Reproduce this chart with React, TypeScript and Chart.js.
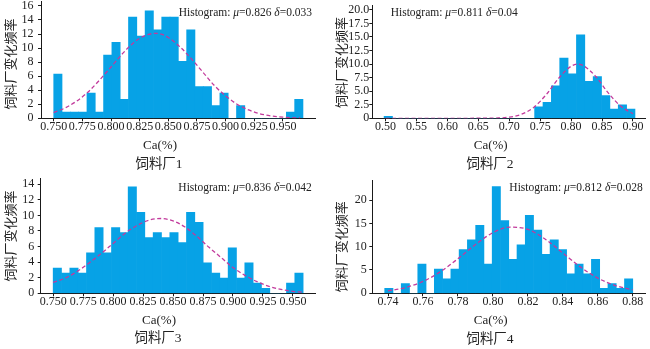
import React, { useEffect, useRef } from 'react';
import { Chart, registerables } from 'chart.js';

Chart.register(...registerables);

// ---------------- shared text ----------------
const Y_TITLE = '饲料厂变化频率';
const X_TITLE = 'Ca(%)';
const HIST_LABEL = 'Histogram: ';

// ---------------- 饲料厂1 ----------------
const P1_CAPTION = '饲料厂1';
const P1_MU = '0.826';
const P1_SD = '0.033';
const P1_BINS = [0.753625, 0.760875, 0.768125, 0.775375, 0.782625, 0.789875, 0.797125, 0.804375, 0.811625, 0.818875,
  0.826125, 0.833375, 0.840625, 0.847875, 0.855125, 0.862375, 0.869625, 0.876875, 0.884125, 0.891375,
  0.898625, 0.905875, 0.913125, 0.920375, 0.927625, 0.934875, 0.942125, 0.949375, 0.956625, 0.963875];
const P1_FREQ = [6.3, 0.9, 0.9, 0.9, 3.6, 0.9, 9.0, 10.8, 2.7, 14.4,
  11.7, 15.3, 12.6, 14.4, 14.4, 8.1, 12.6, 4.5, 4.5, 1.8,
  3.6, 0, 1.8, 0, 0, 0, 0, 0, 0.9, 2.7];
const P1_FIT_X = [0.75, 0.76, 0.77, 0.78, 0.79, 0.8, 0.81, 0.82, 0.83, 0.84, 0.85, 0.86, 0.87, 0.88, 0.89, 0.9, 0.91, 0.92, 0.93, 0.94, 0.95, 0.96, 0.965];
const P1_FIT_Y = [0.82, 1.48, 2.45, 3.75, 5.45, 7.3, 9.2, 10.8, 11.8, 12.1, 11.5, 10.2, 8.5, 6.6, 4.7, 3.2, 2.0, 1.2, 0.64, 0.33, 0.16, 0.07, 0.05];
const P1_XTICKS = [0.75, 0.775, 0.8, 0.825, 0.85, 0.875, 0.9, 0.925, 0.95];
const P1_YTICKS = [0, 2, 4, 6, 8, 10, 12, 14, 16];

// ---------------- 饲料厂2 ----------------
const P2_CAPTION = '饲料厂2';
const P2_MU = '0.811';
const P2_SD = '0.04';
const P2_BINS = [0.50446, 0.51798, 0.5315, 0.54502, 0.55854, 0.57206, 0.58558, 0.5991, 0.61262, 0.62614,
  0.63966, 0.65318, 0.6667, 0.68022, 0.69374, 0.70726, 0.72078, 0.7343, 0.74782, 0.76134,
  0.77486, 0.78838, 0.8019, 0.81542, 0.82894, 0.84246, 0.85598, 0.8695, 0.88302, 0.89654];
const P2_FREQ = [0.37, 0, 0, 0, 0, 0, 0, 0, 0, 0,
  0, 0, 0, 0, 0, 0, 0, 0, 2.1, 2.95,
  6.0, 11.1, 8.2, 15.4, 6.8, 7.7, 4.2, 1.7, 2.5, 1.7];
const P2_FIT_X = [0.5, 0.55, 0.6, 0.65, 0.68, 0.7, 0.72, 0.74, 0.76, 0.78, 0.8, 0.811, 0.82, 0.84, 0.86, 0.88, 0.9];
const P2_FIT_Y = [0, 0, 0, 0.01, 0.05, 0.21, 0.75, 2.06, 4.4, 7.4, 9.6, 10.0, 9.7, 7.7, 4.7, 2.25, 0.84];
const P2_XTICKS = [0.5, 0.55, 0.6, 0.65, 0.7, 0.75, 0.8, 0.85, 0.9];
const P2_YTICKS = [0, 2.5, 5, 7.5, 10, 12.5, 15, 17.5, 20];

// ---------------- 饲料厂3 ----------------
const P3_CAPTION = '饲料厂3';
const P3_MU = '0.836';
const P3_SD = '0.042';
const P3_BINS = [0.753475, 0.760425, 0.767375, 0.774325, 0.781275, 0.788225, 0.795175, 0.802125, 0.809075, 0.816025,
  0.822975, 0.829925, 0.836875, 0.843825, 0.850775, 0.857725, 0.864675, 0.871625, 0.878575, 0.885525,
  0.892475, 0.899425, 0.906375, 0.913325, 0.920275, 0.927225, 0.934175, 0.941125, 0.948075, 0.955025];
const P3_FREQ = [3.25, 2.6, 3.25, 2.6, 5.2, 8.45, 5.2, 8.45, 7.8, 13.65,
  10.4, 7.15, 7.8, 7.15, 7.8, 6.5, 10.4, 9.1, 3.9, 2.6,
  1.95, 5.85, 1.95, 3.9, 1.3, 0.65, 0, 0, 1.3, 2.6];
const P3_FIT_X = [0.75, 0.76, 0.77, 0.78, 0.79, 0.8, 0.81, 0.82, 0.83, 0.84, 0.85, 0.86, 0.87, 0.88, 0.89, 0.9, 0.91, 0.92, 0.93, 0.94, 0.95, 0.958];
const P3_FIT_Y = [1.4, 1.95, 2.8, 3.9, 5.1, 6.4, 7.7, 8.7, 9.4, 9.6, 9.3, 8.5, 7.3, 5.9, 4.6, 3.3, 2.3, 1.5, 0.9, 0.5, 0.25, 0.14];
const P3_XTICKS = [0.75, 0.775, 0.8, 0.825, 0.85, 0.875, 0.9, 0.925, 0.95];
const P3_YTICKS = [0, 2, 4, 6, 8, 10, 12, 14];

// ---------------- 饲料厂4 ----------------
const P4_CAPTION = '饲料厂4';
const P4_MU = '0.812';
const P4_SD = '0.028';
const P4_BINS = [0.740465, 0.745195, 0.749925, 0.754655, 0.759385, 0.764115, 0.768845, 0.773575, 0.778305, 0.783035,
  0.787765, 0.792495, 0.797225, 0.801955, 0.806685, 0.811415, 0.816145, 0.820875, 0.825605, 0.830335,
  0.835065, 0.839795, 0.844525, 0.849255, 0.853985, 0.858715, 0.863445, 0.868175, 0.872905, 0.877635];
const P4_FREQ = [1.04, 0, 2.08, 0, 6.25, 0, 5.2, 3.12, 5.2, 9.4,
  11.45, 14.6, 6.25, 22.9, 15.6, 7.3, 10.4, 16.7, 13.55, 8.35,
  11.45, 9.4, 4.15, 6.25, 4.15, 7.3, 1.04, 2.08, 1.04, 3.12];
const P4_FIT_X = [0.74, 0.75, 0.76, 0.77, 0.78, 0.79, 0.8, 0.81, 0.82, 0.83, 0.84, 0.85, 0.86, 0.87, 0.88];
const P4_FIT_Y = [0.52, 1.23, 2.54, 4.63, 7.42, 10.45, 13.0, 14.2, 13.7, 11.6, 8.65, 5.67, 3.27, 1.67, 0.74];
const P4_XTICKS = [0.74, 0.76, 0.78, 0.8, 0.82, 0.84, 0.86, 0.88];
const P4_YTICKS = [0, 5, 10, 15, 20];

// ---------------- styling ----------------
const BAR = '#07a2e6';
const CURVE = '#c23a9c';
const TEXT = '#222222';
const AXIS = '#1a1a1a';
const SERIF = "'Liberation Serif', 'Times New Roman', 'Noto Sans CJK SC', serif";
const CJK = "'Noto Sans CJK SC', 'Liberation Serif', serif";

type PanelCfg = {
  caption: string; mu: string; sd: string;
  bins: number[]; freq: number[]; fitX: number[]; fitY: number[];
  xTicks: number[]; yTicks: number[]; xDec: number; yDec: number;
  xMin: number; xMax: number; yMax: number;
  box: { left: number; top: number; width: number; height: number };
  area: { left: number; top: number; right: number; bottom: number };
  yPad: number;
  hist: { align: 'left' | 'right'; x: number; y: number };
  yTitle: [number, number]; xTitle: [number, number]; cap: [number, number];
};

const PANELS: PanelCfg[] = [
  {
    caption: P1_CAPTION, mu: P1_MU, sd: P1_SD, bins: P1_BINS, freq: P1_FREQ, fitX: P1_FIT_X, fitY: P1_FIT_Y,
    xTicks: P1_XTICKS, yTicks: P1_YTICKS, xDec: 3, yDec: 0,
    xMin: 0.7389, xMax: 0.978, yMax: 16.6,
    box: { left: 0, top: 0, width: 320, height: 175 },
    area: { left: 41, top: 1.7, right: 315, bottom: 118.3 },
    yPad: 4.5,
    hist: { align: 'right', x: 312, y: 12.5 },
    yTitle: [10, 64], xTitle: [160, 146], cap: [159, 164],
  },
  {
    caption: P2_CAPTION, mu: P2_MU, sd: P2_SD, bins: P2_BINS, freq: P2_FREQ, fitX: P2_FIT_X, fitY: P2_FIT_Y,
    xTicks: P2_XTICKS, yTicks: P2_YTICKS, xDec: 2, yDec: 1,
    xMin: 0.4786, xMax: 0.9195, yMax: 20.9,
    box: { left: 320, top: 0, width: 330, height: 175 },
    area: { left: 52.3, top: 5, right: 325, bottom: 118.3 },
    yPad: 0,
    hist: { align: 'left', x: 70.7, y: 12.7 },
    yTitle: [21, 62.5], xTitle: [170.7, 146], cap: [170, 164],
  },
  {
    caption: P3_CAPTION, mu: P3_MU, sd: P3_SD, bins: P3_BINS, freq: P3_FREQ, fitX: P3_FIT_X, fitY: P3_FIT_Y,
    xTicks: P3_XTICKS, yTicks: P3_YTICKS, xDec: 3, yDec: 0,
    xMin: 0.7396, xMax: 0.9684, yMax: 14.76,
    box: { left: 0, top: 175, width: 320, height: 174 },
    area: { left: 40.7, top: 3.3, right: 315, bottom: 118.3 },
    yPad: 3.5,
    hist: { align: 'right', x: 311.7, y: 12.7 },
    yTitle: [10, 61], xTitle: [159, 146], cap: [158, 163.5],
  },
  {
    caption: P4_CAPTION, mu: P4_MU, sd: P4_SD, bins: P4_BINS, freq: P4_FREQ, fitX: P4_FIT_X, fitY: P4_FIT_Y,
    xTicks: P4_XTICKS, yTicks: P4_YTICKS, xDec: 2, yDec: 0,
    xMin: 0.731, xMax: 0.887, yMax: 24.3,
    box: { left: 320, top: 175, width: 330, height: 174 },
    area: { left: 52.3, top: 5, right: 325, bottom: 118.3 },
    yPad: 2.5,
    hist: { align: 'right', x: 322.7, y: 12.7 },
    yTitle: [21, 71.7], xTitle: [170.7, 146], cap: [170, 164],
  },
];

function drawTexts(ctx: CanvasRenderingContext2D, p: PanelCfg) {
  ctx.save();
  ctx.fillStyle = TEXT;
  ctx.textBaseline = 'middle';

  // histogram annotation
  const size = 11.5;
  const segs: [string, boolean][] = [[HIST_LABEL, false], ['μ', true], ['=' + p.mu + ' ', false], ['δ', true], ['=' + p.sd, false]];
  const widths = segs.map(([t, it]) => {
    ctx.font = `${it ? 'italic ' : ''}${size}px ${SERIF}`;
    return ctx.measureText(t).width;
  });
  const total = widths.reduce((a, b) => a + b, 0);
  let x = p.hist.align === 'right' ? p.hist.x - total : p.hist.x;
  ctx.textAlign = 'left';
  segs.forEach(([t, it], i) => {
    ctx.font = `${it ? 'italic ' : ''}${size}px ${SERIF}`;
    ctx.fillText(t, x, p.hist.y);
    x += widths[i];
  });

  // x title
  ctx.textAlign = 'center';
  ctx.font = `13px ${SERIF}`;
  ctx.fillText(X_TITLE, p.xTitle[0], p.xTitle[1]);

  // caption
  ctx.font = `13.5px ${SERIF}`;
  ctx.fillText(p.caption, p.cap[0], p.cap[1]);

  // y title
  ctx.translate(p.yTitle[0], p.yTitle[1]);
  ctx.rotate(-Math.PI / 2);
  ctx.font = `13px ${CJK}`;
  ctx.fillText(Y_TITLE, 0, 0);
  ctx.restore();
}

function Panel({ p }: { p: PanelCfg }) {
  const ref = useRef<HTMLCanvasElement>(null);
  useEffect(() => {
    const canvas = ref.current;
    if (!canvas) return;
    const textPlugin = {
      id: 'panelText',
      afterDraw(chart: any) {
        drawTexts(chart.ctx, p);
      },
    };
    const tickFont = { family: SERIF, size: 12, lineHeight: 1.0 };
    const chart = new Chart(canvas, {
      type: 'bar',
      data: {
        datasets: [
          {
            type: 'line',
            data: p.fitX.map((x, i) => ({ x, y: p.fitY[i] })),
            borderColor: CURVE,
            borderWidth: 1.3,
            borderDash: [4, 2.5],
            pointRadius: 0,
            fill: false,
            cubicInterpolationMode: 'monotone',
            order: 0,
          } as any,
          {
            type: 'bar',
            data: p.bins.map((x, i) => ({ x, y: p.freq[i] })),
            backgroundColor: BAR,
            borderWidth: 0,
            barPercentage: 1,
            categoryPercentage: 1,
            order: 1,
          } as any,
        ],
      },
      options: {
        responsive: false,
        animation: false,
        devicePixelRatio: 1,
        layout: { padding: { left: 0, top: p.area.top, right: p.box.width - p.area.right, bottom: 0 } },
        plugins: { legend: { display: false }, tooltip: { enabled: false } },
        scales: {
          x: {
            type: 'linear',
            min: p.xMin,
            max: p.xMax,
            offset: false,
            afterBuildTicks: (s: any) => { s.ticks = p.xTicks.map((v) => ({ value: v })); },
            afterFit: (s: any) => { s.height = p.box.height - p.area.bottom; s.paddingLeft = 0; s.paddingRight = 0; },
            ticks: {
              autoSkip: false, maxRotation: 0, minRotation: 0, padding: -0.5,
              font: tickFont, color: TEXT,
              callback: (v: any) => Number(v).toFixed(p.xDec),
            },
            grid: { display: true, drawOnChartArea: false, drawTicks: true, tickLength: 3, color: AXIS, offset: false },
            border: { display: true, color: AXIS, width: 1 },
          },
          y: {
            type: 'linear',
            min: 0,
            max: p.yMax,
            afterBuildTicks: (s: any) => { s.ticks = p.yTicks.map((v) => ({ value: v })); },
            afterFit: (s: any) => { s.width = p.area.left; s.paddingTop = 0; s.paddingBottom = 0; },
            ticks: {
              autoSkip: false,
              padding: p.yPad,
              font: tickFont, color: TEXT,
              callback: (v: any) => (p.yDec === 0 || Number(v) === 0 ? String(Number(v)) : Number(v).toFixed(p.yDec)),
            },
            grid: { display: true, drawOnChartArea: false, drawTicks: true, tickLength: 3, color: AXIS },
            border: { display: true, color: AXIS, width: 1 },
          },
        },
      } as any,
      plugins: [textPlugin],
    });
    return () => chart.destroy();
  }, [p]);
  return (
    <canvas
      ref={ref}
      width={p.box.width}
      height={p.box.height}
      style={{ position: 'absolute', left: p.box.left, top: p.box.top, width: p.box.width, height: p.box.height }}
    />
  );
}

export default function App() {
  useEffect(() => {
    document.body.style.margin = '0';
  }, []);
  return (
    <div style={{ position: 'absolute', left: 0, top: 0, width: 650, height: 349, background: '#ffffff' }}>
      {PANELS.map((p, i) => (
        <Panel key={i} p={p} />
      ))}
    </div>
  );
}
